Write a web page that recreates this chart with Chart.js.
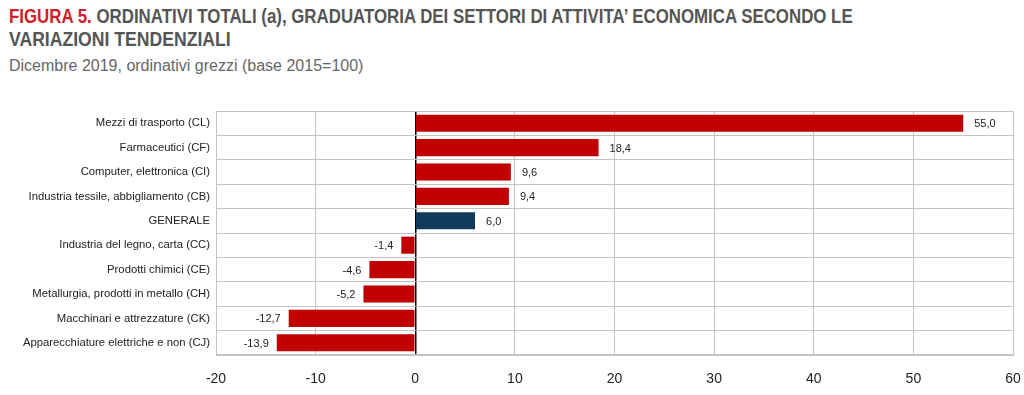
<!DOCTYPE html>
<html>
<head>
<meta charset="utf-8">
<script src="https://cdn.jsdelivr.net/npm/chart.js@4/dist/chart.umd.min.js"></script>
<style>
  body { margin: 0; background: #fff; }
  #wrap { position: relative; width: 1024px; height: 395px; }
  .title { position: absolute; left: 9px; font-family: "Liberation Sans", Arial, sans-serif; font-weight: bold; font-size: 20px; color: #555; transform-origin: left top; white-space: nowrap; }
  .title span { color: #d0202a; }
  #sub { position: absolute; left: 9px; top: 57px; font-family: "Liberation Sans", Arial, sans-serif; font-size: 16px; color: #666; white-space: nowrap; }
  canvas { position: absolute; left: 0; top: 0; }
</style>
</head>
<body>
<div id="wrap">
  <div class="title" style="top:5px; transform: scaleX(0.843)"><span>FIGURA 5.</span> ORDINATIVI TOTALI (a), GRADUATORIA DEI SETTORI DI ATTIVITA’ ECONOMICA SECONDO LE</div>
  <div class="title" style="top:28px; transform: scaleX(0.88)">VARIAZIONI TENDENZIALI</div>
  <div id="sub">Dicembre 2019, ordinativi grezzi (base 2015=100)</div>
  <canvas id="settoriChart" width="1024" height="395"></canvas>
</div>
<script>
const settori = [
  'Mezzi di trasporto (CL)',
  'Farmaceutici (CF)',
  'Computer, elettronica (CI)',
  'Industria tessile, abbigliamento (CB)',
  'GENERALE',
  'Industria del legno, carta (CC)',
  'Prodotti chimici (CE)',
  'Metallurgia, prodotti in metallo (CH)',
  'Macchinari e attrezzature (CK)',
  'Apparecchiature elettriche e non (CJ)'
];
const variazioni = [55.0, 18.4, 9.6, 9.4, 6.0, -1.4, -4.6, -5.2, -12.7, -13.9];
const xTicks = [-20, -10, 0, 10, 20, 30, 40, 50, 60];

const ctx = document.getElementById('settoriChart').getContext('2d');

const valueLabels = {
  id: 'valueLabels',
  afterDatasetsDraw(chart) {
    const c = chart.ctx;
    const meta = chart.getDatasetMeta(0);
    c.save();
    c.font = '11px "Liberation Sans", Arial, sans-serif';
    c.fillStyle = '#222';
    c.textBaseline = 'middle';
    meta.data.forEach(function (bar, i) {
      const v = variazioni[i];
      const txt = v.toFixed(1).replace('.', ',');
      if (v >= 0) {
        c.textAlign = 'left';
        c.fillText(txt, bar.x + 11, bar.y + 1);
      } else {
        c.textAlign = 'right';
        c.fillText(txt, bar.x - 8, bar.y + 1);
      }
    });
    c.restore();
  }
};

new Chart(ctx, {
  type: 'bar',
  data: {
    labels: settori,
    datasets: [{
      data: variazioni,
      backgroundColor: settori.map(s => s === 'GENERALE' ? '#113a5c' : '#c00000'),
      borderWidth: 0,
      categoryPercentage: 1,
      barPercentage: 0.7
    }]
  },
  options: {
    indexAxis: 'y',
    responsive: false,
    animation: false,
    layout: { padding: { top: 111, right: 0, left: 0, bottom: 0 } },
    plugins: {
      legend: { display: false },
      tooltip: { enabled: false }
    },
    scales: {
      x: {
        min: -20,
        max: 60,
        afterBuildTicks: function (scale) {
          scale.ticks = xTicks.map(v => ({ value: v }));
        },
        afterFit: function (scale) {
          scale.height = 40;
          scale.paddingLeft = 0;
          scale.paddingRight = 11;
        },
        grid: {
          color: c => c.tick && c.tick.value === 0 ? '#000' : '#c4c4c4',
          lineWidth: c => c.tick && c.tick.value === 0 ? 1.5 : 1,
          drawTicks: false
        },
        border: { color: '#c4c4c4' },
        ticks: {
          padding: 16,
          color: '#222',
          font: { family: '"Liberation Sans", Arial, sans-serif', size: 14 }
        }
      },
      y: {
        afterFit: function (scale) { scale.width = 216; },
        grid: { color: '#c4c4c4', drawTicks: false },
        border: { color: '#c4c4c4' },
        ticks: {
          padding: 6,
          color: '#222',
          font: { family: '"Liberation Sans", Arial, sans-serif', size: 11.3 }
        }
      }
    }
  },
  plugins: [valueLabels]
});
</script>
</body>
</html>
